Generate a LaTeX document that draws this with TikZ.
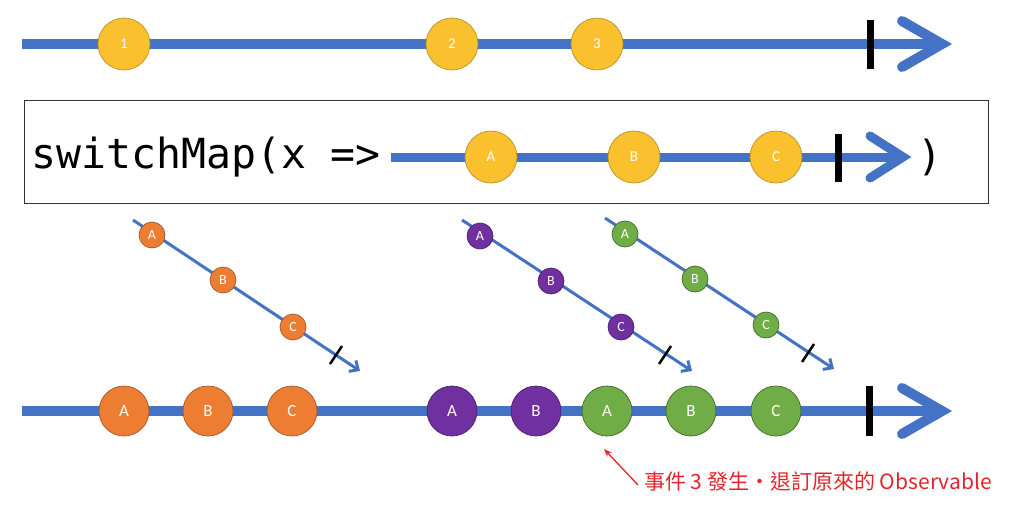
\documentclass[tikz,border=0pt]{standalone}
\usepackage{fontspec}
\setmainfont{Carlito}
\newfontfamily\monof{DejaVu Sans Mono}
\newfontfamily\cjk{Noto Sans CJK TC}
\usetikzlibrary{arrows.meta}
\definecolor{tlblue}{HTML}{4472C4}
\definecolor{myyellow}{HTML}{FBC02D}
\definecolor{yellowedge}{HTML}{B8922A}
\definecolor{myorange}{HTML}{ED7D31}
\definecolor{orangeedge}{HTML}{9E5A2C}
\definecolor{mypurple}{HTML}{7030A0}
\definecolor{purpleedge}{HTML}{4A2070}
\definecolor{mygreen}{HTML}{70AD47}
\definecolor{greenedge}{HTML}{3F6B2A}
\definecolor{myred}{HTML}{E3242B}
\begin{document}
\begin{tikzpicture}[x=1pt,y=-1pt,
  timeline/.style={draw=tlblue,line width=10pt},
  chev/.style={draw=tlblue,line width=10pt,line cap=round,line join=miter},
  endbar/.style={draw=black,line width=7pt},
  diag/.style={draw=tlblue,line width=3pt,-{Straight Barb[length=7pt,width=13pt,line width=3pt]}},
  tick/.style={draw=black,line width=2.5pt},
  marble/.style={circle,inner sep=0pt,text=white,line width=0.7pt},
  big/.style={marble,minimum size=50pt,font=\fontsize{17}{17}\selectfont},
  small/.style={marble,minimum size=26pt,font=\fontsize{14}{14}\selectfont},
  yel/.style={fill=myyellow,draw=yellowedge},
  ora/.style={fill=myorange,draw=orangeedge},
  pur/.style={fill=mypurple,draw=purpleedge},
  gre/.style={fill=mygreen,draw=greenedge}]
\useasboundingbox (0,0) rectangle (1024,511);

% ---------- top timeline ----------
\coordinate (t0) at (22,44);
\coordinate (t1) at (938,44);
\draw[timeline] (t0) -- (t1);
\draw[chev] (902,21) -- (942,44) -- (902,67);
\coordinate (tb0) at (870,20);
\coordinate (tb1) at (870,69);
\draw[endbar] (tb0) -- (tb1);
\node[big,yel,minimum size=52pt,font=\fontsize{15}{15}\selectfont] (n1) at (124,44) {1};
\node[big,yel,minimum size=52pt,font=\fontsize{15}{15}\selectfont] (n2) at (452,44) {2};
\node[big,yel,minimum size=52pt,font=\fontsize{15}{15}\selectfont] (n3) at (597,44) {3};

% ---------- operator box ----------
\node[draw=black!80,line width=1pt,minimum width=964pt,minimum height=103pt,inner sep=0pt] (box) at (506,151.5) {};
\node[anchor=west,inner sep=0pt,font=\monof\fontsize{41.5}{41.5}\selectfont] (fn) at (31,157) {switchMap(x =>};
\coordinate (i0) at (391,157);
\coordinate (i1) at (900,157);
\draw[timeline,line width=9pt] (i0) -- (i1);
\draw[chev,line width=9pt] (870,136) -- (903,157) -- (870,178);
\coordinate (ib0) at (838,134);
\coordinate (ib1) at (838,182);
\draw[endbar] (ib0) -- (ib1);
\node[big,yel,minimum size=52pt,font=\fontsize{15}{15}\selectfont] (ia) at (491,157) {A};
\node[big,yel,minimum size=52pt,font=\fontsize{15}{15}\selectfont] (ib) at (634,157) {B};
\node[big,yel,minimum size=52pt,font=\fontsize{15}{15}\selectfont] (ic) at (776,157) {C};
\node[anchor=west,inner sep=0pt,font=\monof\fontsize{41.5}{41.5}\selectfont] (cl) at (917,157) {)};

% ---------- inner observables ----------
\coordinate (o0) at (133,220);
\coordinate (o1) at (360,371);
\draw[diag] (o0) -- (o1);
\coordinate (ot0) at (342,346);
\coordinate (ot1) at (330,364);
\draw[tick] (ot0) -- (ot1);
\node[small,ora] (oa) at (152,235) {A};
\node[small,ora] (ob) at (223,280) {B};
\node[small,ora] (oc) at (293,327) {C};

\coordinate (p0) at (462,220);
\coordinate (p1) at (692,371);
\draw[diag] (p0) -- (p1);
\coordinate (pt0) at (671,346);
\coordinate (pt1) at (659,364);
\draw[tick] (pt0) -- (pt1);
\node[small,pur] (pa) at (480,236) {A};
\node[small,pur] (pb) at (551,281) {B};
\node[small,pur] (pc) at (621,327) {C};

\coordinate (g0) at (605,218);
\coordinate (g1) at (834,369);
\draw[diag] (g0) -- (g1);
\coordinate (gt0) at (814,344);
\coordinate (gt1) at (802,362);
\draw[tick] (gt0) -- (gt1);
\node[small,gre] (ga) at (625,234) {A};
\node[small,gre] (gb) at (695,279) {B};
\node[small,gre] (gc) at (766,325) {C};

% ---------- bottom timeline ----------
\coordinate (b0) at (22,411);
\coordinate (b1) at (938,411);
\draw[timeline] (b0) -- (b1);
\draw[chev] (902,388) -- (942,411) -- (902,434);
\coordinate (bb0) at (869,386);
\coordinate (bb1) at (869,436);
\draw[endbar] (bb0) -- (bb1);
\node[big,ora] (r1) at (124,411) {A};
\node[big,ora] (r2) at (208,411) {B};
\node[big,ora] (r3) at (292,411) {C};
\node[big,pur] (r4) at (452,411) {A};
\node[big,pur] (r5) at (536,411) {B};
\node[big,gre] (r6) at (607,411) {A};
\node[big,gre] (r7) at (691,411) {B};
\node[big,gre] (r8) at (776,411) {C};

% ---------- annotation ----------
\node[anchor=west,inner sep=0pt,text=myred,font=\cjk\fontsize{21}{21}\selectfont] (note) at (644,482) {事件 3 發生・退訂原來的 Observable};
\coordinate (na) at (638,485);
\coordinate (nt) at (604,449);
\draw[myred,line width=1.3pt,-{Stealth[length=8pt,width=6pt]}] (na) -- (nt);
\end{tikzpicture}
\end{document}
